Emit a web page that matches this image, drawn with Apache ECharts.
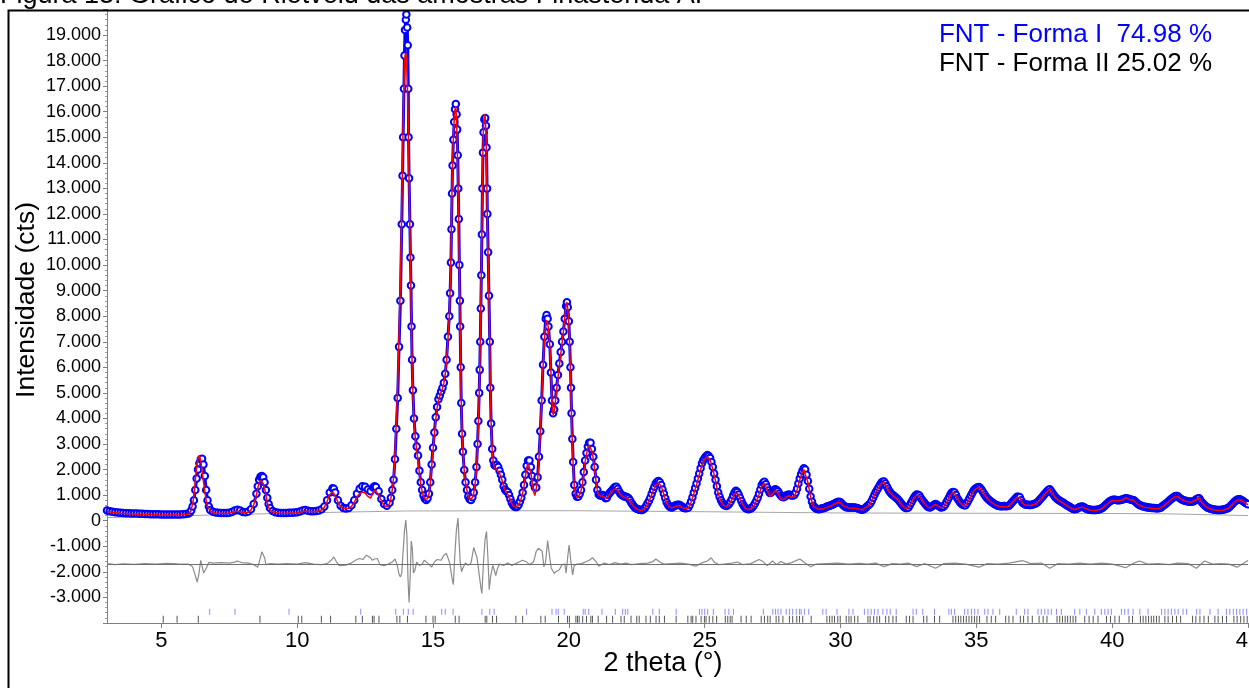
<!DOCTYPE html>
<html>
<head>
<meta charset="utf-8">
<script src="https://cdn.jsdelivr.net/npm/echarts@6/dist/echarts.min.js"></script>
<style>
html,body{margin:0;padding:0;background:#fff;}
#chart{width:1249px;height:688px;}
</style>
</head>
<body>
<div id="chart"></div>
<script>
// Intensities in thousands of counts (kcts); 2-theta in degrees
const observedK = [
[3.0,0.40],[3.1,0.37],[3.2,0.35],[3.3,0.33],[3.4,0.32],[3.5,0.31],[3.6,0.30],[3.7,0.29],[3.8,0.29],[3.9,0.28],
[4.0,0.28],[4.1,0.28],[4.2,0.27],[4.3,0.27],[4.4,0.26],[4.5,0.26],[4.6,0.25],[4.7,0.25],[4.8,0.25],[4.9,0.25],
[5.0,0.24],[5.1,0.24],[5.2,0.24],[5.3,0.24],[5.4,0.24],[5.5,0.24],[5.6,0.24],[5.7,0.24],[5.8,0.25],[5.9,0.26],
[6.0,0.28],[6.05,0.32],[6.1,0.40],[6.15,0.55],[6.2,0.80],[6.25,1.20],[6.3,1.65],[6.35,2.00],[6.4,2.25],[6.45,2.40],
[6.5,2.42],[6.55,2.20],[6.6,1.75],[6.65,1.20],[6.7,0.80],[6.75,0.55],[6.8,0.42],[6.9,0.35],[7.0,0.32],[7.1,0.31],
[7.2,0.30],[7.3,0.30],[7.4,0.30],[7.5,0.31],[7.6,0.34],[7.7,0.40],[7.8,0.43],[7.9,0.40],[8.0,0.34],[8.1,0.33],
[8.2,0.36],[8.3,0.45],[8.4,0.65],[8.5,1.05],[8.55,1.35],[8.6,1.60],[8.65,1.72],[8.7,1.75],[8.75,1.70],[8.8,1.50],
[8.85,1.20],[8.9,0.90],[8.95,0.65],[9.0,0.50],[9.1,0.38],[9.2,0.33],[9.3,0.31],[9.4,0.30],[9.5,0.30],[9.6,0.30],
[9.7,0.31],[9.8,0.31],[9.9,0.32],[10.0,0.33],[10.1,0.36],[10.2,0.40],[10.3,0.42],[10.4,0.39],[10.5,0.37],[10.6,0.37],
[10.7,0.38],[10.8,0.40],[10.9,0.45],[11.0,0.55],[11.1,0.80],[11.2,1.10],[11.3,1.27],[11.35,1.25],[11.4,1.10],[11.5,0.80],
[11.6,0.58],[11.7,0.50],[11.8,0.48],[11.9,0.50],[12.0,0.60],[12.1,0.80],[12.2,1.05],[12.3,1.25],[12.4,1.35],[12.5,1.33],
[12.6,1.22],[12.7,1.15],[12.8,1.30],[12.85,1.35],[12.9,1.32],[13.0,1.15],[13.1,0.85],[13.2,0.65],[13.3,0.58],[13.4,0.70],
[13.45,0.90],[13.5,1.20],[13.55,1.60],[13.6,2.40],[13.65,3.60],[13.7,4.80],[13.75,6.80],[13.8,8.60],[13.85,11.6],[13.88,13.5],
[13.9,15.0],[13.93,16.9],[13.95,18.2],[13.97,19.2],[14.0,19.6],[14.02,19.8],[14.05,19.3],[14.07,18.6],[14.09,16.9],[14.1,15.0],
[14.12,13.4],[14.15,11.6],[14.17,10.3],[14.19,9.2],[14.21,7.6],[14.23,6.3],[14.26,5.1],[14.3,4.0],[14.35,3.3],[14.4,2.9],
[14.45,2.55],[14.5,1.95],[14.55,1.50],[14.6,1.20],[14.65,0.98],[14.7,0.86],[14.75,0.81],[14.8,0.88],[14.85,1.05],[14.9,1.50],
[14.95,2.20],[15.0,2.85],[15.05,3.45],[15.1,4.05],[15.15,4.45],[15.2,4.75],[15.25,4.90],[15.3,5.05],[15.35,5.20],[15.4,5.40],
[15.45,5.75],[15.5,6.30],[15.55,7.20],[15.6,8.00],[15.63,8.90],[15.66,10.1],[15.68,11.4],[15.7,12.8],[15.72,13.9],[15.75,14.9],
[15.78,15.6],[15.81,16.1],[15.84,16.3],[15.87,15.9],[15.89,15.3],[15.91,14.3],[15.93,13.0],[15.95,11.8],[15.97,10.0],[15.99,8.6],
[16.0,7.6],[16.02,6.0],[16.04,4.6],[16.07,3.4],[16.1,2.7],[16.15,1.98],[16.2,1.50],[16.25,1.20],[16.3,0.95],[16.35,0.84],
[16.4,0.81],[16.45,0.92],[16.5,1.10],[16.55,1.50],[16.6,2.10],[16.64,3.00],[16.67,3.90],[16.7,5.00],[16.72,5.90],[16.74,7.00],
[16.76,8.30],[16.78,9.60],[16.8,11.2],[16.82,13.0],[16.84,14.4],[16.86,15.2],[16.89,15.7],[16.92,15.75],[16.95,15.45],[16.97,14.6],
[16.99,13.0],[17.0,12.0],[17.03,10.5],[17.06,8.8],[17.09,7.0],[17.11,5.2],[17.14,3.8],[17.18,2.8],[17.22,2.35],[17.26,2.18],
[17.3,2.15],[17.35,2.18],[17.4,2.10],[17.45,1.95],[17.5,1.80],[17.55,1.60],[17.6,1.35],[17.65,1.22],[17.7,1.15],[17.75,1.12],
[17.8,1.00],[17.85,0.85],[17.9,0.70],[17.95,0.60],[18.0,0.55],[18.05,0.53],[18.1,0.55],[18.15,0.62],[18.2,0.75],[18.25,0.90],
[18.3,1.10],[18.35,1.40],[18.4,1.80],[18.45,2.15],[18.5,2.35],[18.55,2.35],[18.6,2.10],[18.65,1.75],[18.7,1.45],[18.75,1.30],
[18.8,1.30],[18.85,1.70],[18.9,2.50],[18.95,3.50],[19.0,4.70],[19.05,6.10],[19.1,7.20],[19.15,7.90],[19.18,8.05],[19.22,7.90],
[19.25,7.60],[19.3,6.90],[19.34,5.80],[19.38,4.70],[19.42,4.20],[19.46,4.35],[19.5,4.70],[19.55,5.20],[19.6,5.70],[19.65,6.15],
[19.7,6.60],[19.75,7.00],[19.8,7.40],[19.85,7.90],[19.9,8.40],[19.93,8.55],[19.96,8.35],[20.0,7.80],[20.03,7.00],[20.06,6.00],
[20.08,5.20],[20.1,4.20],[20.13,3.20],[20.16,2.30],[20.2,1.40],[20.25,1.05],[20.3,0.94],[20.35,0.95],[20.4,1.05],[20.45,1.20],
[20.5,1.50],[20.55,1.90],[20.6,2.35],[20.65,2.65],[20.7,2.90],[20.75,3.05],[20.8,3.05],[20.85,2.80],[20.9,2.50],[20.95,2.10],
[21.0,1.60],[21.05,1.20],[21.1,1.02],[21.15,0.98],[21.2,0.98],[21.25,1.00],[21.3,0.95],[21.35,0.88],[21.4,0.90],[21.45,1.00],
[21.5,1.08],[21.55,1.14],[21.6,1.20],[21.65,1.27],[21.7,1.32],[21.75,1.33],[21.8,1.25],[21.85,1.14],[21.9,1.05],[21.95,1.00],
[22.0,0.97],[22.05,0.95],[22.1,0.94],[22.15,0.92],[22.2,0.88],[22.25,0.80],[22.3,0.70],[22.35,0.62],[22.4,0.55],[22.45,0.50],
[22.5,0.47],[22.55,0.45],[22.6,0.43],[22.65,0.42],[22.7,0.42],[22.75,0.45],[22.8,0.50],[22.85,0.58],[22.9,0.68],[22.95,0.78],
[23.0,0.90],[23.05,1.05],[23.1,1.20],[23.15,1.33],[23.2,1.45],[23.25,1.52],[23.3,1.55],[23.35,1.50],[23.4,1.40],[23.45,1.22],
[23.5,1.05],[23.55,0.88],[23.6,0.72],[23.65,0.62],[23.7,0.55],[23.75,0.53],[23.8,0.52],[23.85,0.55],[23.9,0.58],[23.95,0.60],
[24.0,0.62],[24.05,0.62],[24.1,0.60],[24.15,0.56],[24.2,0.52],[24.25,0.50],[24.3,0.49],[24.35,0.50],[24.4,0.52],[24.45,0.62],
[24.5,0.75],[24.55,0.92],[24.6,1.10],[24.65,1.28],[24.7,1.45],[24.75,1.65],[24.8,1.85],[24.85,2.05],[24.9,2.25],[24.95,2.36],
[25.0,2.45],[25.05,2.52],[25.1,2.57],[25.15,2.53],[25.2,2.45],[25.25,2.30],[25.3,2.10],[25.35,1.85],[25.4,1.60],[25.45,1.35],
[25.5,1.10],[25.55,0.94],[25.6,0.80],[25.65,0.70],[25.7,0.62],[25.75,0.59],[25.8,0.57],[25.85,0.60],[25.9,0.65],[25.95,0.74],
[26.0,0.85],[26.05,0.98],[26.1,1.10],[26.15,1.17],[26.2,1.12],[26.25,1.02],[26.3,0.90],[26.35,0.77],[26.4,0.65],[26.45,0.56],
[26.5,0.50],[26.55,0.47],[26.6,0.45],[26.65,0.46],[26.7,0.48],[26.75,0.52],[26.8,0.58],[26.85,0.67],[26.9,0.78],[26.95,0.90],
[27.0,1.05],[27.05,1.22],[27.1,1.40],[27.15,1.48],[27.2,1.52],[27.25,1.42],[27.3,1.30],[27.35,1.18],[27.4,1.08],[27.45,1.10],
[27.5,1.15],[27.55,1.20],[27.6,1.23],[27.65,1.20],[27.7,1.15],[27.75,1.06],[27.8,0.98],[27.85,0.94],[27.9,0.92],[27.95,0.95],
[28.0,0.98],[28.05,1.00],[28.1,1.02],[28.15,1.00],[28.2,0.98],[28.25,0.98],[28.3,1.00],[28.35,1.10],[28.4,1.25],[28.45,1.45],
[28.5,1.65],[28.55,1.82],[28.6,1.95],[28.65,2.05],[28.7,2.00],[28.75,1.80],[28.8,1.55],[28.85,1.25],[28.9,0.95],[28.95,0.74],
[29.0,0.58],[29.05,0.52],[29.1,0.48],[29.15,0.46],[29.2,0.45],[29.25,0.46],[29.3,0.48],[29.35,0.49],[29.4,0.50],[29.45,0.52],
[29.5,0.55],[29.55,0.56],[29.6,0.58],[29.65,0.60],[29.7,0.62],[29.75,0.65],[29.8,0.68],[29.85,0.71],[29.9,0.73],[29.95,0.74],
[30.0,0.72],[30.05,0.66],[30.1,0.60],[30.15,0.56],[30.2,0.53],[30.25,0.52],[30.3,0.52],[30.35,0.52],[30.4,0.52],[30.45,0.52],
[30.5,0.52],[30.55,0.51],[30.6,0.50],[30.65,0.48],[30.7,0.46],[30.75,0.44],[30.8,0.43],[30.85,0.45],[30.9,0.48],[30.95,0.53],
[31.0,0.58],[31.05,0.62],[31.1,0.68],[31.15,0.78],[31.2,0.90],[31.25,1.01],[31.3,1.12],[31.35,1.21],[31.4,1.30],[31.45,1.40],
[31.5,1.48],[31.55,1.52],[31.6,1.53],[31.65,1.45],[31.7,1.35],[31.75,1.25],[31.8,1.15],[31.85,1.08],[31.9,1.02],[31.95,0.98],
[32.0,0.94],[32.05,0.90],[32.1,0.85],[32.15,0.79],[32.2,0.72],[32.25,0.65],[32.3,0.58],[32.35,0.53],[32.4,0.50],[32.45,0.50],
[32.5,0.52],[32.55,0.60],[32.6,0.70],[32.65,0.80],[32.7,0.90],[32.75,0.97],[32.8,1.02],[32.85,1.01],[32.9,0.98],[32.95,0.90],
[33.0,0.82],[33.05,0.75],[33.1,0.68],[33.15,0.61],[33.2,0.55],[33.25,0.53],[33.3,0.52],[33.35,0.55],[33.4,0.58],[33.45,0.62],
[33.5,0.65],[33.55,0.62],[33.6,0.58],[33.65,0.55],[33.7,0.52],[33.75,0.53],[33.8,0.55],[33.85,0.62],[33.9,0.72],[33.95,0.82],
[34.0,0.92],[34.05,1.02],[34.1,1.10],[34.15,1.12],[34.2,1.10],[34.25,1.00],[34.3,0.88],[34.35,0.80],[34.4,0.72],[34.45,0.66],
[34.5,0.62],[34.55,0.60],[34.6,0.60],[34.65,0.68],[34.7,0.78],[34.75,0.88],[34.8,0.98],[34.85,1.08],[34.9,1.18],[34.95,1.24],
[35.0,1.28],[35.05,1.31],[35.1,1.32],[35.15,1.27],[35.2,1.20],[35.25,1.11],[35.3,1.02],[35.35,0.95],[35.4,0.88],[35.45,0.83],
[35.5,0.78],[35.55,0.74],[35.6,0.70],[35.65,0.66],[35.7,0.63],[35.75,0.60],[35.8,0.58],[35.85,0.57],[35.9,0.56],[35.95,0.56],
[36.0,0.57],[36.05,0.57],[36.1,0.56],[36.15,0.57],[36.2,0.58],[36.25,0.63],[36.3,0.70],[36.35,0.76],[36.4,0.82],[36.45,0.88],
[36.5,0.94],[36.55,0.94],[36.6,0.92],[36.65,0.80],[36.7,0.70],[36.75,0.66],[36.8,0.63],[36.85,0.62],[36.9,0.62],[36.95,0.61],
[37.0,0.61],[37.05,0.62],[37.1,0.64],[37.15,0.66],[37.2,0.68],[37.25,0.72],[37.3,0.78],[37.35,0.84],[37.4,0.90],[37.45,0.96],
[37.5,1.02],[37.55,1.08],[37.6,1.15],[37.65,1.20],[37.7,1.23],[37.75,1.16],[37.8,1.08],[37.85,1.00],[37.9,0.93],[37.95,0.88],
[38.0,0.83],[38.05,0.80],[38.1,0.76],[38.15,0.73],[38.2,0.70],[38.25,0.66],[38.3,0.62],[38.35,0.59],[38.4,0.56],[38.45,0.53],
[38.5,0.50],[38.55,0.47],[38.6,0.45],[38.65,0.46],[38.7,0.47],[38.75,0.50],[38.8,0.53],[38.85,0.54],[38.9,0.55],[38.95,0.53],
[39.0,0.50],[39.05,0.47],[39.1,0.45],[39.15,0.44],[39.2,0.43],[39.25,0.42],[39.3,0.42],[39.35,0.42],[39.4,0.42],[39.45,0.43],
[39.5,0.44],[39.55,0.46],[39.6,0.48],[39.65,0.51],[39.7,0.55],[39.75,0.60],[39.8,0.65],[39.85,0.70],[39.9,0.75],[39.95,0.78],
[40.0,0.81],[40.05,0.82],[40.1,0.82],[40.15,0.81],[40.2,0.80],[40.25,0.80],[40.3,0.81],[40.35,0.82],[40.4,0.84],[40.45,0.86],
[40.5,0.88],[40.55,0.87],[40.6,0.86],[40.65,0.84],[40.7,0.82],[40.75,0.81],[40.8,0.80],[40.85,0.75],[40.9,0.70],[40.95,0.65],
[41.0,0.61],[41.05,0.59],[41.1,0.57],[41.15,0.55],[41.2,0.54],[41.25,0.53],[41.3,0.52],[41.35,0.52],[41.4,0.51],[41.45,0.50],
[41.5,0.50],[41.55,0.50],[41.6,0.49],[41.65,0.49],[41.7,0.49],[41.75,0.50],[41.8,0.52],[41.85,0.56],[41.9,0.60],[41.95,0.64],
[42.0,0.68],[42.05,0.73],[42.1,0.78],[42.15,0.83],[42.2,0.87],[42.25,0.91],[42.3,0.95],[42.35,0.97],[42.4,0.97],[42.45,0.92],
[42.5,0.88],[42.55,0.84],[42.6,0.81],[42.65,0.79],[42.7,0.78],[42.75,0.76],[42.8,0.75],[42.85,0.74],[42.9,0.74],[42.95,0.75],
[43.0,0.76],[43.05,0.80],[43.1,0.84],[43.15,0.87],[43.2,0.88],[43.25,0.80],[43.3,0.72],[43.35,0.66],[43.4,0.60],[43.45,0.56],
[43.5,0.52],[43.55,0.50],[43.6,0.48],[43.65,0.46],[43.7,0.45],[43.75,0.44],[43.8,0.43],[43.85,0.42],[43.9,0.42],[43.95,0.42],
[44.0,0.42],[44.05,0.43],[44.1,0.44],[44.15,0.45],[44.2,0.47],[44.25,0.49],[44.3,0.52],[44.35,0.57],[44.4,0.62],[44.45,0.68],
[44.5,0.74],[44.55,0.78],[44.6,0.82],[44.65,0.84],[44.7,0.84],[44.75,0.81],[44.8,0.78],[44.85,0.74],[44.9,0.70],[44.95,0.67],[45.0,0.64]
];

const calculatedK = [
[3.0,0.36],[3.5,0.29],[4.0,0.26],[4.5,0.24],[5.0,0.22],[5.5,0.22],[5.8,0.23],[6.0,0.26],[6.1,0.40],[6.2,0.95],
[6.25,1.55],[6.3,2.10],[6.35,2.45],[6.4,2.55],[6.45,2.35],[6.5,1.95],[6.55,1.55],[6.6,1.15],[6.65,0.80],[6.7,0.55],
[6.8,0.38],[6.9,0.32],[7.0,0.29],[7.5,0.29],[7.7,0.35],[7.8,0.38],[7.9,0.36],[8.0,0.31],[8.2,0.33],[8.3,0.42],
[8.4,0.62],[8.5,1.00],[8.55,1.28],[8.6,1.48],[8.65,1.57],[8.7,1.56],[8.75,1.45],[8.8,1.25],[8.85,0.98],[8.9,0.72],
[8.95,0.52],[9.0,0.42],[9.1,0.34],[9.3,0.30],[9.6,0.29],[10.0,0.31],[10.2,0.36],[10.3,0.38],[10.4,0.36],[10.7,0.36],
[10.9,0.42],[11.0,0.52],[11.1,0.75],[11.2,1.02],[11.3,1.13],[11.35,1.10],[11.4,0.98],[11.5,0.72],[11.6,0.55],[11.7,0.48],
[11.9,0.48],[12.0,0.56],[12.1,0.72],[12.2,0.92],[12.3,1.06],[12.4,1.12],[12.5,1.08],[12.6,0.95],[12.7,0.88],[12.8,1.10],
[12.85,1.20],[12.9,1.18],[13.0,1.02],[13.1,0.78],[13.2,0.60],[13.3,0.54],[13.4,0.66],[13.45,0.88],[13.5,1.20],[13.55,1.70],
[13.6,2.60],[13.65,3.90],[13.7,5.30],[13.75,7.30],[13.8,9.40],[13.85,12.2],[13.88,14.0],[13.9,15.5],[13.93,17.0],[13.95,17.8],
[13.97,18.2],[14.0,18.3],[14.02,18.1],[14.05,17.4],[14.07,16.6],[14.09,15.6],[14.1,14.6],[14.12,13.2],[14.15,11.4],[14.17,10.0],
[14.19,8.8],[14.21,7.4],[14.23,6.2],[14.26,5.0],[14.3,3.9],[14.35,3.2],[14.4,2.75],[14.45,2.35],[14.5,1.85],[14.55,1.42],
[14.6,1.15],[14.65,0.95],[14.7,0.84],[14.75,0.80],[14.8,0.86],[14.85,1.05],[14.9,1.45],[14.95,2.10],[15.0,2.75],[15.05,3.35],
[15.1,3.95],[15.15,4.40],[15.2,4.70],[15.25,4.88],[15.3,5.02],[15.35,5.18],[15.4,5.38],[15.45,5.72],[15.5,6.25],[15.55,7.10],
[15.6,8.00],[15.63,9.10],[15.66,10.4],[15.68,11.7],[15.7,13.0],[15.72,14.0],[15.75,15.0],[15.78,15.7],[15.81,16.1],[15.84,16.2],
[15.87,15.6],[15.89,14.8],[15.91,13.8],[15.93,12.6],[15.95,11.4],[15.97,9.8],[15.99,8.4],[16.0,7.4],[16.02,5.9],[16.04,4.6],
[16.07,3.4],[16.1,2.7],[16.15,1.95],[16.2,1.48],[16.25,1.18],[16.3,0.94],[16.35,0.83],[16.4,0.80],[16.45,0.90],[16.5,1.08],
[16.55,1.45],[16.6,2.00],[16.64,2.90],[16.67,3.80],[16.7,4.90],[16.72,5.90],[16.74,7.10],[16.76,8.50],[16.78,9.90],[16.8,11.5],
[16.82,13.2],[16.84,14.6],[16.86,15.4],[16.89,15.9],[16.92,15.8],[16.95,15.2],[16.97,14.1],[16.99,12.6],[17.0,11.7],[17.03,10.2],
[17.06,8.6],[17.09,6.9],[17.11,5.2],[17.14,3.8],[17.18,2.75],[17.22,2.25],[17.26,2.08],[17.3,2.02],[17.35,2.00],[17.4,1.95],
[17.45,1.85],[17.5,1.72],[17.55,1.55],[17.6,1.35],[17.65,1.20],[17.7,1.12],[17.75,1.08],[17.8,0.95],[17.85,0.82],[17.9,0.68],
[17.95,0.58],[18.0,0.53],[18.05,0.52],[18.1,0.54],[18.15,0.60],[18.2,0.72],[18.25,0.88],[18.3,1.08],[18.35,1.35],[18.4,1.72],
[18.45,2.05],[18.5,2.25],[18.55,2.20],[18.6,1.90],[18.65,1.50],[18.7,1.15],[18.75,0.98],[18.8,1.05],[18.85,1.55],[18.9,2.40],
[18.95,3.45],[19.0,4.65],[19.05,6.00],[19.1,7.05],[19.15,7.70],[19.18,7.85],[19.22,7.75],[19.25,7.50],[19.3,6.85],[19.34,5.85],
[19.38,4.75],[19.42,4.15],[19.46,4.25],[19.5,4.60],[19.55,5.10],[19.6,5.60],[19.65,6.05],[19.7,6.50],[19.75,6.95],[19.8,7.40],
[19.85,7.95],[19.9,8.45],[19.93,8.55],[19.96,8.30],[20.0,7.70],[20.03,6.85],[20.06,5.80],[20.08,5.00],[20.1,4.00],[20.13,3.00],
[20.16,2.15],[20.2,1.35],[20.25,1.00],[20.3,0.90],[20.35,0.92],[20.4,1.02],[20.45,1.18],[20.5,1.45],[20.55,1.85],[20.6,2.30],
[20.65,2.60],[20.7,2.85],[20.75,2.95],[20.8,2.95],[20.85,2.72],[20.9,2.42],[20.95,2.02],[21.0,1.55],[21.05,1.18],[21.1,1.00],
[21.2,0.95],[21.3,0.92],[21.4,0.88],[21.5,1.02],[21.6,1.15],[21.7,1.25],[21.75,1.26],[21.8,1.20],[21.9,1.02],[22.0,0.93],
[22.1,0.90],[22.2,0.84],[22.3,0.68],[22.4,0.53],[22.5,0.45],[22.6,0.41],[22.7,0.41],[22.8,0.48],[22.9,0.65],[23.0,0.88],
[23.1,1.15],[23.2,1.38],[23.3,1.48],[23.4,1.35],[23.5,1.02],[23.6,0.70],[23.7,0.53],[23.8,0.50],[23.9,0.55],[24.0,0.59],
[24.1,0.57],[24.2,0.50],[24.3,0.47],[24.4,0.50],[24.5,0.72],[24.6,1.05],[24.7,1.40],[24.8,1.80],[24.9,2.18],[25.0,2.40],
[25.1,2.50],[25.2,2.38],[25.3,2.02],[25.4,1.55],[25.5,1.05],[25.6,0.76],[25.7,0.60],[25.8,0.55],[25.9,0.62],[26.0,0.82],
[26.1,1.05],[26.15,1.12],[26.2,1.08],[26.3,0.87],[26.4,0.63],[26.5,0.48],[26.6,0.43],[26.7,0.46],[26.8,0.56],[26.9,0.75],
[27.0,1.02],[27.1,1.35],[27.2,1.45],[27.3,1.22],[27.4,0.95],[27.5,1.05],[27.6,1.18],[27.7,1.08],[27.8,0.85],[27.9,0.82],
[28.0,0.92],[28.1,0.98],[28.2,0.90],[28.3,0.95],[28.4,1.20],[28.5,1.60],[28.6,1.92],[28.65,2.00],[28.7,1.95],[28.8,1.50],
[28.9,0.92],[29.0,0.56],[29.2,0.44],[29.4,0.48],[29.6,0.56],[29.8,0.66],[29.9,0.71],[30.0,0.70],[30.1,0.58],[30.3,0.50],
[30.6,0.48],[30.8,0.42],[31.0,0.56],[31.1,0.66],[31.2,0.88],[31.3,1.10],[31.4,1.28],[31.5,1.45],[31.6,1.50],[31.7,1.32],
[31.8,1.12],[31.9,1.00],[32.0,0.92],[32.1,0.82],[32.2,0.70],[32.3,0.56],[32.4,0.48],[32.5,0.50],[32.6,0.68],[32.7,0.88],
[32.8,1.00],[32.9,0.96],[33.0,0.80],[33.1,0.66],[33.2,0.54],[33.3,0.50],[33.4,0.56],[33.5,0.64],[33.6,0.56],[33.7,0.50],
[33.8,0.53],[33.9,0.70],[34.0,0.90],[34.1,1.08],[34.2,1.08],[34.3,0.86],[34.4,0.70],[34.5,0.60],[34.6,0.58],[34.7,0.76],
[34.8,0.96],[34.9,1.16],[35.0,1.26],[35.1,1.30],[35.2,1.18],[35.3,1.00],[35.5,0.76],[35.7,0.61],[35.9,0.54],[36.1,0.54],
[36.2,0.56],[36.3,0.68],[36.4,0.80],[36.5,0.92],[36.6,0.90],[36.7,0.68],[36.8,0.61],[37.0,0.59],[37.2,0.66],[37.3,0.76],
[37.4,0.88],[37.5,1.00],[37.6,1.14],[37.7,1.25],[37.8,1.06],[37.9,0.91],[38.0,0.81],[38.2,0.68],[38.4,0.54],[38.6,0.43],
[38.8,0.51],[38.9,0.53],[39.0,0.48],[39.2,0.41],[39.4,0.40],[39.6,0.46],[39.8,0.63],[39.9,0.73],[40.0,0.79],[40.2,0.78],
[40.4,0.82],[40.5,0.90],[40.6,0.84],[40.8,0.78],[40.9,0.68],[41.0,0.59],[41.2,0.52],[41.5,0.48],[41.7,0.47],[41.9,0.58],
[42.1,0.76],[42.3,0.93],[42.4,0.95],[42.5,0.86],[42.7,0.76],[42.9,0.72],[43.1,0.82],[43.2,0.90],[43.3,0.70],[43.5,0.50],
[43.7,0.43],[43.9,0.40],[44.1,0.42],[44.3,0.50],[44.5,0.72],[44.6,0.80],[44.7,0.82],[44.8,0.76],[45.0,0.62]
];

const backgroundK = [
[3.0,0.12],[6.0,0.20],[10.0,0.30],[14.0,0.38],[20.0,0.39],[25.0,0.35],[30.0,0.30],[35.0,0.29],[40.0,0.28],[42.0,0.27],[45.0,0.20]
];

// difference curve (obs - calc), drawn shifted to the offset level
const differenceK = [
[3.0,-1.68],[3.3,-1.72],[3.6,-1.69],[4.0,-1.71],[4.4,-1.68],[4.8,-1.70],[5.2,-1.67],[5.6,-1.69],[6.0,-1.70],[6.15,-1.80],
[6.25,-2.15],[6.32,-2.40],[6.38,-2.10],[6.45,-1.55],[6.5,-1.52],[6.56,-2.05],[6.6,-2.12],[6.68,-1.80],[6.75,-1.63],[6.9,-1.66],
[7.2,-1.64],[7.5,-1.66],[7.7,-1.62],[7.8,-1.58],[7.95,-1.64],[8.2,-1.66],[8.4,-1.72],[8.55,-1.82],[8.62,-1.55],[8.7,-1.22],
[8.75,-1.15],[8.8,-1.45],[8.85,-1.72],[9.0,-1.68],[9.3,-1.70],[9.6,-1.68],[10.0,-1.70],[10.3,-1.64],[10.6,-1.70],[10.9,-1.72],
[11.1,-1.68],[11.25,-1.55],[11.35,-1.42],[11.45,-1.62],[11.55,-1.76],[11.8,-1.74],[12.0,-1.65],[12.2,-1.52],[12.3,-1.48],[12.42,-1.52],
[12.55,-1.35],[12.6,-1.30],[12.7,-1.45],[12.76,-1.55],[12.85,-1.50],[12.95,-1.48],[13.05,-1.72],[13.2,-1.76],[13.35,-1.70],[13.5,-1.62],
[13.6,-1.50],[13.68,-1.72],[13.75,-2.10],[13.8,-2.20],[13.85,-2.05],[13.9,-1.20],[13.95,-0.40],[14.0,0.02],[14.04,-0.60],[14.08,-2.30],
[14.12,-3.20],[14.16,-2.20],[14.2,-0.80],[14.24,-1.10],[14.28,-2.05],[14.33,-1.95],[14.4,-1.62],[14.5,-1.75],[14.6,-1.70],[14.68,-1.55],
[14.75,-1.48],[14.85,-1.70],[14.95,-1.82],[15.05,-1.62],[15.15,-1.52],[15.22,-1.47],[15.3,-1.55],[15.4,-1.35],[15.49,-1.28],[15.55,-1.45],
[15.62,-1.68],[15.7,-2.25],[15.75,-2.50],[15.8,-1.40],[15.86,-0.40],[15.92,0.10],[15.96,-0.80],[16.0,-1.60],[16.05,-2.00],[16.1,-1.85],
[16.2,-1.65],[16.3,-1.75],[16.4,-1.65],[16.5,-1.05],[16.56,-1.10],[16.62,-1.45],[16.7,-2.10],[16.76,-2.60],[16.8,-2.85],[16.86,-1.60],
[16.92,-0.70],[16.97,-0.43],[17.02,-1.40],[17.07,-2.70],[17.12,-2.20],[17.2,-1.75],[17.26,-1.95],[17.31,-2.15],[17.38,-1.85],[17.45,-1.70],
[17.6,-1.75],[17.75,-1.66],[17.9,-1.75],[18.05,-1.68],[18.2,-1.60],[18.3,-1.55],[18.36,-1.48],[18.45,-1.62],[18.55,-1.72],[18.7,-1.62],
[18.8,-1.20],[18.88,-1.08],[18.95,-1.05],[19.02,-1.20],[19.08,-1.80],[19.14,-1.65],[19.22,-0.78],[19.28,-1.30],[19.35,-1.85],[19.46,-2.06],
[19.55,-1.98],[19.65,-1.92],[19.75,-1.72],[19.85,-1.70],[19.9,-2.05],[19.96,-1.40],[20.01,-0.95],[20.07,-1.55],[20.14,-2.12],[20.2,-1.75],
[20.3,-1.70],[20.45,-1.68],[20.6,-1.62],[20.75,-1.55],[20.87,-1.45],[21.0,-1.60],[21.1,-1.78],[21.3,-1.66],[21.5,-1.72],[21.7,-1.64],
[21.9,-1.70],[22.1,-1.66],[22.3,-1.72],[22.6,-1.68],[22.9,-1.66],[23.1,-1.60],[23.2,-1.50],[23.35,-1.62],[23.5,-1.70],[23.8,-1.68],
[24.1,-1.66],[24.4,-1.70],[24.68,-1.78],[24.9,-1.65],[25.1,-1.58],[25.24,-1.45],[25.35,-1.62],[25.5,-1.72],[25.7,-1.70],[26.0,-1.66],
[26.2,-1.62],[26.4,-1.72],[26.7,-1.68],[27.0,-1.52],[27.15,-1.60],[27.3,-1.76],[27.5,-1.58],[27.65,-1.72],[27.8,-1.60],[28.0,-1.70],
[28.2,-1.64],[28.5,-1.50],[28.65,-1.62],[28.9,-1.80],[29.1,-1.70],[29.5,-1.68],[29.9,-1.66],[30.3,-1.70],[30.7,-1.67],[31.0,-1.70],
[31.3,-1.66],[31.6,-1.80],[31.9,-1.68],[32.2,-1.70],[32.5,-1.66],[32.8,-1.80],[33.1,-1.68],[33.5,-1.86],[33.8,-1.68],[34.2,-1.66],
[34.6,-1.70],[35.1,-1.82],[35.4,-1.68],[35.8,-1.70],[36.2,-1.66],[36.7,-1.56],[37.0,-1.68],[37.4,-1.66],[37.7,-1.86],[38.0,-1.68],
[38.4,-1.70],[38.8,-1.66],[39.2,-1.70],[39.6,-1.66],[40.0,-1.70],[40.5,-1.84],[40.8,-1.66],[41.0,-1.58],[41.3,-1.70],[41.7,-1.68],
[42.1,-1.72],[42.4,-1.66],[42.8,-1.68],[43.1,-1.86],[43.4,-1.58],[43.7,-1.70],[44.0,-1.68],[44.3,-1.70],[44.6,-1.82],[44.85,-1.66],[45.0,-1.56]
];
const differenceOffsetK = -1.7;

// reflection positions (2-theta)
const reflectionsFormaI = [
6.78,7.71,9.70,12.34,13.63,13.91,14.09,14.27,15.32,15.45,15.74,16.80,17.09,17.25,18.44,19.38,19.53,19.61,19.83,20.53,
20.60,20.73,21.22,21.71,21.98,22.08,22.17,23.09,23.33,23.95,24.81,24.90,25.00,25.11,25.32,25.75,25.89,26.06,27.16,27.51,
27.61,27.70,27.81,28.00,28.12,28.24,28.37,28.49,28.55,28.67,28.83,29.35,29.47,29.87,30.31,30.46,30.88,31.01,31.13,31.25,
31.38,31.56,31.71,31.83,32.05,32.67,32.79,33.03,33.46,33.99,34.08,34.20,34.57,34.69,34.82,34.94,35.06,35.31,35.43,35.61,
35.86,36.47,36.78,36.90,37.27,37.39,37.52,37.64,37.76,37.95,38.13,38.62,38.81,39.05,39.36,39.60,39.73,39.85,39.97,40.34,
40.46,40.59,40.77,41.02,41.32,41.82,41.94,42.06,42.18,42.31,42.43,42.61,42.74,43.11,43.23,43.60,43.90,44.21,44.33,44.46,
44.58,44.70,44.82,44.95
];
const reflectionsFormaII = [
5.07,5.58,6.36,8.63,10.04,10.17,10.89,11.23,12.16,12.40,12.77,12.83,13.01,13.67,13.78,14.06,14.74,15.00,15.08,15.82,
15.96,16.92,16.98,17.19,17.34,18.05,18.30,18.97,19.13,19.62,19.95,20.02,20.26,20.32,20.38,20.51,20.65,20.81,20.87,21.08,
21.39,21.61,21.92,22.04,22.29,22.50,22.59,22.84,23.00,23.21,23.33,23.52,23.95,24.38,24.50,24.56,24.68,24.87,24.99,25.05,
25.17,25.30,25.44,25.76,25.85,25.94,26.01,26.34,26.53,26.71,27.08,27.20,27.32,27.41,27.63,27.73,27.88,28.12,28.24,28.39,
28.49,28.61,28.92,29.50,29.60,29.69,29.78,29.90,29.99,30.21,30.31,30.39,30.52,30.64,31.01,31.09,31.22,31.34,31.44,31.66,
31.78,31.93,32.05,32.42,32.54,32.67,33.06,33.18,33.46,33.65,34.14,34.24,34.34,34.43,34.53,34.63,34.73,34.83,34.93,35.02,
35.12,35.39,35.55,35.71,36.08,36.20,36.35,36.62,36.74,36.90,37.06,37.31,37.46,37.60,37.97,38.07,38.17,38.27,38.36,38.46,
38.56,38.66,38.99,39.15,39.30,39.48,39.79,39.94,40.10,40.26,40.62,40.75,41.04,41.14,41.24,41.34,41.44,41.53,41.63,41.73,
41.94,42.06,42.22,42.37,42.52,42.96,43.08,43.23,43.38,43.54,43.78,43.90,44.06,44.21,44.48,44.60,44.73,44.85,44.97
];
const tickRowFormaI = -3.56;
const tickRowFormaII = -3.86;

const xTickValues = [5,10,15,20,25,30,35,40,45];
const phaseLabels = ['FNT - Forma I  74.98 %', 'FNT - Forma II 25.02 %'];
const captionText = 'Figura 13: Gráfico de Rietveld das amostras Finasterida A.';
const xTitle = '2 theta (°)';
const yTitle = 'Intensidade (cts)';

const FONT = '"Liberation Sans", Arial, sans-serif';
const chart = echarts.init(document.getElementById('chart'), null, {renderer: 'canvas'});

const option = {
  animation: false,
  backgroundColor: '#ffffff',
  grid: {left: 107, right: 1, top: 9.5, bottom: 65.1, containLabel: false, outerBoundsMode: 'none'},
  xAxis: {
    type: 'value', min: 3, max: 45,
    axisLine: {show: true, onZero: false, lineStyle: {color: '#7f7f7f', width: 1}},
    axisTick: {show: true, customValues: xTickValues, length: 5, lineStyle: {color: '#7f7f7f'}},
    axisLabel: {customValues: xTickValues, color: '#000', fontFamily: FONT, fontSize: 22, margin: 7, hideOverlap: false},
    splitLine: {show: false}
  },
  yAxis: {
    type: 'value', min: -4, max: 20, interval: 1,
    axisLine: {show: true, onZero: false, lineStyle: {color: '#7f7f7f', width: 1}},
    axisTick: {show: true, length: 4, lineStyle: {color: '#7f7f7f'}},
    minorTick: {show: true, splitNumber: 5, length: 2, lineStyle: {color: '#9a9a9a'}},
    axisLabel: {
      showMinLabel: false, showMaxLabel: false,
      color: '#000', fontFamily: FONT, fontSize: 18, margin: 6,
      formatter: v => (Math.abs(v) < 1e-9 ? '0' : v.toFixed(3))
    },
    splitLine: {show: false}
  },
  series: [
    {
      name: 'background', type: 'line', data: backgroundK, showSymbol: false,
      lineStyle: {color: '#a6a6a6', width: 1}, z: 1, silent: true
    },
    {
      name: 'difference', type: 'line', data: differenceK, showSymbol: false,
      lineStyle: {color: '#8c8c8c', width: 1.2}, z: 2, silent: true,
      markLine: {
        silent: true, symbol: 'none', label: {show: false},
        lineStyle: {color: '#6e6e6e', width: 1.2, type: 'solid'},
        data: [{yAxis: differenceOffsetK}]
      }
    },
    {
      name: 'reflections I', type: 'scatter',
      data: reflectionsFormaI.map(t => [t, tickRowFormaI]),
      symbol: 'rect', symbolSize: [1, 6], itemStyle: {color: '#6f6fff'}, z: 3, silent: true
    },
    {
      name: 'reflections II', type: 'scatter',
      data: reflectionsFormaII.map(t => [t, tickRowFormaII]),
      symbol: 'rect', symbolSize: [1, 7], itemStyle: {color: '#2b2b2b'}, z: 3, silent: true
    },
    {
      name: 'observed', type: 'line', data: observedK,
      symbol: 'emptyCircle', symbolSize: 6.5, showSymbol: true,
      lineStyle: {color: '#0000ff', width: 3},
      itemStyle: {color: '#0000ff', borderWidth: 2},
      z: 4, silent: true
    },
    {
      name: 'calculated', type: 'line', data: calculatedK, showSymbol: false,
      lineStyle: {color: '#ff0000', width: 1.5}, z: 5, silent: true
    }
  ],
  graphic: [
    {type: 'rect', shape: {x: 8.5, y: 10.5, width: 1260, height: 700}, style: {fill: 'none', stroke: '#000', lineWidth: 2}, z: 100, silent: true},
    {type: 'text', x: 0, y: -4, style: {text: captionText, font: '27px ' + FONT, fill: '#000', textVerticalAlign: 'middle'}, z: 100},
    {type: 'text', x: 1212, y: 35, style: {text: phaseLabels[0], font: '26px ' + FONT, fill: '#0000ff', textAlign: 'right', textVerticalAlign: 'middle'}, z: 100},
    {type: 'text', x: 1212, y: 64, style: {text: phaseLabels[1], font: '26px ' + FONT, fill: '#000', textAlign: 'right', textVerticalAlign: 'middle'}, z: 100},
    {type: 'text', x: 663, y: 664, style: {text: xTitle, font: '27px ' + FONT, fill: '#000', textAlign: 'center', textVerticalAlign: 'middle'}, z: 100},
    {type: 'text', x: 27, y: 300, rotation: Math.PI / 2, style: {text: yTitle, font: '26.5px ' + FONT, fill: '#000', textAlign: 'center', textVerticalAlign: 'middle'}, z: 100}
  ]
};
chart.setOption(option);
</script>
</body>
</html>
